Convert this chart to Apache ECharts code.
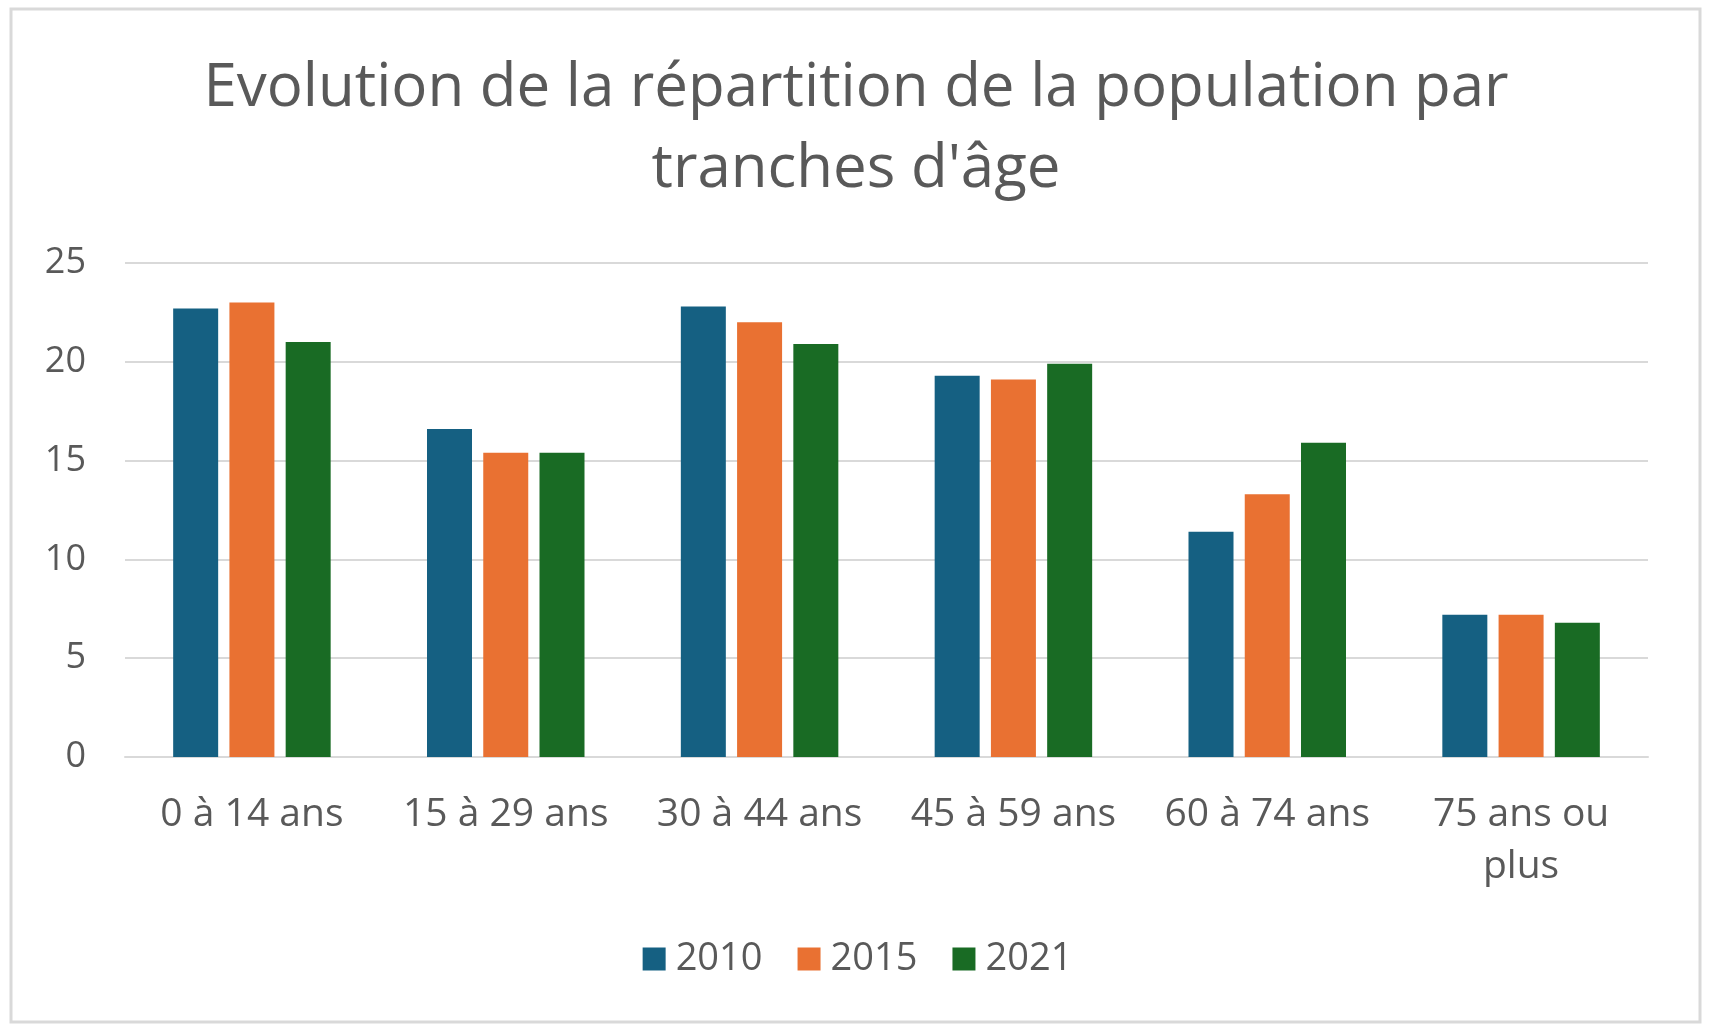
<!DOCTYPE html>
<html>
<head>
<meta charset="utf-8">
<script src="https://cdn.jsdelivr.net/npm/echarts@6/dist/echarts.min.js"></script>
<style>
    html, body {
        margin: 0;
        padding: 0;
        background: #fff;
    }
    #chart {
        width: 1715px;
        height: 1026px;
    }
</style>
</head>
<body>
<div id="chart"></div>
<script>
    //tranches d'âge
    var categories = ['0 à 14 ans', '15 à 29 ans', '30 à 44 ans', '45 à 59 ans', '60 à 74 ans', '75 ans ou\nplus'];
    //valeurs par année (%)
    var years = ['2010', '2015', '2021'];
    var values2010 = [22.7, 16.6, 22.8, 19.3, 11.4, 7.2];
    var values2015 = [23.0, 15.4, 22.0, 19.1, 13.3, 7.2];
    var values2021 = [21.0, 15.4, 20.9, 19.9, 15.9, 6.8];
    var yTicks = [0, 5, 10, 15, 20, 25];

    var colors = ['#156082', '#E97132', '#196B24'];
    var textColor = '#595959';
    var gridColor = '#D9D9D9';
    var font = '"Open Sans", Roboto, sans-serif';

    var mychart = echarts.init(document.getElementById('chart'), null, {renderer: 'canvas'});

    function makeSeries(name, data, color) {
        return {
            name: name,
            type: 'bar',
            data: data,
            barWidth: 45,
            barGap: '25%',
            itemStyle: {color: color},
            emphasis: {disabled: true}
        };
    }

    var option = {
        backgroundColor: '#fff',
        animation: false,
        textStyle: {fontFamily: font},
        //cadre du graphique
        graphic: [{
            type: 'rect',
            shape: {x: 11, y: 9, width: 1689, height: 1013},
            style: {fill: 'none', stroke: gridColor, lineWidth: 3},
            silent: true
        }],
        title: {
            text: "Evolution de la répartition de la population par\ntranches d'âge",
            left: 856,
            top: 48,
            padding: 0,
            textAlign: 'center',
            textStyle: {
                fontFamily: font,
                fontSize: 60,
                fontWeight: 'normal',
                lineHeight: 81,
                color: textColor
            }
        },
        legend: {
            data: years,
            bottom: 48,
            left: 'center',
            padding: 0,
            icon: 'rect',
            itemWidth: 23,
            itemHeight: 23,
            itemGap: 35,
            textStyle: {
                fontFamily: font,
                fontSize: 38,
                color: textColor,
                padding: [0, 0, 0, 5]
            }
        },
        grid: {
            left: 125,
            right: 67,
            top: 263,
            bottom: 269,
            containLabel: false
        },
        xAxis: {
            type: 'category',
            data: categories,
            axisLine: {lineStyle: {color: gridColor, width: 2}},
            axisTick: {show: false},
            axisLabel: {
                interval: 0,
                margin: 32,
                fontFamily: font,
                fontSize: 39,
                lineHeight: 52,
                color: textColor
            }
        },
        yAxis: {
            type: 'value',
            min: yTicks[0],
            max: yTicks[yTicks.length - 1],
            interval: 5,
            axisLine: {show: false},
            axisTick: {show: false},
            splitLine: {lineStyle: {color: gridColor, width: 2}},
            axisLabel: {
                margin: 39,
                fontFamily: font,
                fontSize: 36,
                color: textColor
            }
        },
        series: [
            makeSeries(years[0], values2010, colors[0]),
            makeSeries(years[1], values2015, colors[1]),
            makeSeries(years[2], values2021, colors[2])
        ]
    };
    mychart.setOption(option);
</script>
</body>
</html>
